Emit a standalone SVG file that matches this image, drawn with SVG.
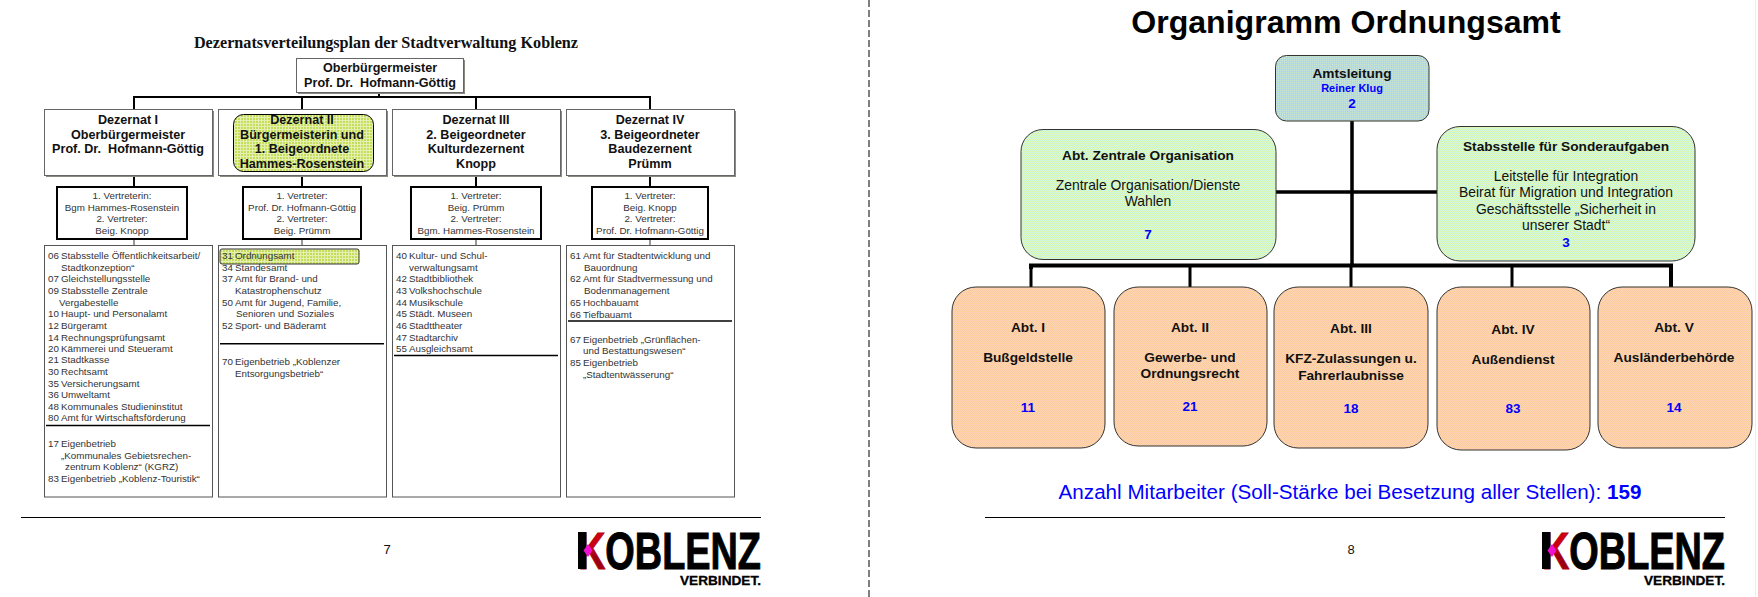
<svg xmlns="http://www.w3.org/2000/svg" width="1758" height="597" viewBox="0 0 1758 597">
<defs>
<style>
text{font-family:"Liberation Sans",Arial,sans-serif;white-space:pre}
.title{font-family:"Liberation Serif","Times New Roman",serif;font-weight:bold;font-size:16.200px;text-anchor:middle;fill:#111}
.h{font-weight:bold;font-size:12.600px;text-anchor:middle;fill:#111}
.v{font-size:9.800px;text-anchor:middle;fill:#333}
.l{font-size:9.800px;fill:#333}
.box{fill:#fff;stroke:#666;stroke-width:1}
.sh{fill:#8a8a80}
.vb{fill:#fff;stroke:#000;stroke-width:2}
.lb{fill:#fff;stroke:#555;stroke-width:1}
.c1{fill:none;stroke:#000;stroke-width:2}
.c2{fill:none;stroke:#333;stroke-width:1}
.sep{stroke:#000;stroke-width:1.5}
.foot{stroke:#000;stroke-width:1}
.t{font-size:13.900px;text-anchor:middle;fill:#111}
.b{font-weight:bold;font-size:13.700px;text-anchor:middle;fill:#111}
.n{font-weight:bold;font-size:13.500px;text-anchor:middle;fill:#00f}
.green{fill:url(#pg);stroke:#333;stroke-width:1}
.orange{fill:url(#po);stroke:#333;stroke-width:1}
.blue{fill:url(#pb);stroke:#333;stroke-width:1}
.logo{font-weight:bold;font-size:52px}
.verb{font-weight:bold;font-size:13px}
.pg{font-size:13px;text-anchor:middle;fill:#111}
</style>
<pattern id="pg" width="2" height="2" patternUnits="userSpaceOnUse"><rect width="2" height="2" fill="#e0f9b4"/><rect width="1" height="1" fill="#c8f2dc"/><rect x="1" y="1" width="1" height="1" fill="#cff5cc"/></pattern>
<pattern id="po" width="2" height="2" patternUnits="userSpaceOnUse"><rect width="2" height="2" fill="#fed8a0"/><rect width="1" height="1" fill="#fac8b0"/><rect x="1" y="1" width="1" height="1" fill="#fccca4"/></pattern>
<pattern id="pb" width="2" height="2" patternUnits="userSpaceOnUse"><rect width="2" height="2" fill="#b8dcec"/><rect width="1" height="1" fill="#c8e4c8"/><rect x="1" y="1" width="1" height="1" fill="#a8d0f0"/></pattern>
<pattern id="ph" width="3" height="3" patternUnits="userSpaceOnUse"><rect width="3" height="3" fill="#c4de5c"/><rect width="1" height="3" fill="#e4efb0"/><rect width="3" height="1" fill="#e4efb0"/></pattern>
<linearGradient id="kg" x1="0" y1="0" x2="0" y2="1"><stop offset="0.45" stop-color="#cc0010"/><stop offset="0.6" stop-color="#9c0010"/></linearGradient>
<g id="logo">
<text class="logo" x="0" y="37" textLength="183" lengthAdjust="spacingAndGlyphs"><tspan fill="url(#kg)" stroke="#b00010" stroke-width="1">K</tspan><tspan fill="#000" stroke="#000" stroke-width="1">OBLENZ</tspan></text>
<rect x="0" y="0" width="8.500" height="37" fill="#000"/>
<polygon points="5.500,18.500 10,12 14.500,18.500 10,25" fill="#f010d0"/>
<text class="verb" x="102" y="53" textLength="81" lengthAdjust="spacingAndGlyphs" fill="#000" stroke="#000" stroke-width="0.300">VERBINDET.</text>
</g>
</defs>
<rect width="1758" height="597" fill="#fff"/>
<line x1="869" y1="0" x2="869" y2="597" stroke="#000" stroke-width="1" stroke-dasharray="7 3"/>
<line x1="1755.500" y1="0" x2="1755.500" y2="597" stroke="#e6eef2" stroke-width="1"/>

<text class="title" x="386" y="48">Dezernatsverteilungsplan der Stadtverwaltung Koblenz</text>

<g id="connectors-left">
<path class="c1" d="M379 92V97M134 109V97H650V109M302 97V109M476 97V109"/>
<path class="c1" d="M134 175V187M302 175V187M476 175V187M650 175V187"/>
<path class="c2" d="M134 239V245M302 239V245M476 239V245M650 239V245"/>
</g>

<g id="ob">
<rect class="sh" x="298" y="60" width="167" height="34"/><rect class="box" x="296.500" y="58.500" width="167" height="34"/>
<text class="h" x="380" y="72">Oberbürgermeister</text><text class="h" x="380" y="87">Prof. Dr.  Hofmann-Göttig</text>
</g>
<g id="dez1">
<rect class="sh" x="46" y="111" width="168" height="66"/><rect class="box" x="44.500" y="109.500" width="168" height="66"/>
<text class="h" x="128" y="124">Dezernat I</text><text class="h" x="128" y="139">Oberbürgermeister</text><text class="h" x="128" y="153">Prof. Dr.  Hofmann-Göttig</text>
</g>
<g id="dez2">
<rect class="sh" x="220" y="111" width="168" height="66"/><rect class="box" x="218.500" y="109.500" width="168" height="66"/>
<rect x="233.500" y="114.500" width="140" height="57" rx="10" fill="url(#ph)" stroke="#000"/>
<text class="h" x="302" y="124">Dezernat II</text><text class="h" x="302" y="139">Bürgermeisterin und</text><text class="h" x="302" y="153">1. Beigeordnete</text><text class="h" x="302" y="168">Hammes-Rosenstein</text>
</g>
<g id="dez3">
<rect class="sh" x="394" y="111" width="168" height="66"/><rect class="box" x="392.500" y="109.500" width="168" height="66"/>
<text class="h" x="476" y="124">Dezernat III</text><text class="h" x="476" y="139">2. Beigeordneter</text><text class="h" x="476" y="153">Kulturdezernent</text><text class="h" x="476" y="168">Knopp</text>
</g>
<g id="dez4">
<rect class="sh" x="568" y="111" width="168" height="66"/><rect class="box" x="566.500" y="109.500" width="168" height="66"/>
<text class="h" x="650" y="124">Dezernat IV</text><text class="h" x="650" y="139">3. Beigeordneter</text><text class="h" x="650" y="153">Baudezernent</text><text class="h" x="650" y="168">Prümm</text>
</g>

<g id="vertr1"><rect class="vb" x="57" y="187" width="130" height="52"/>
<text class="v" x="122" y="199">1. Vertreterin:</text><text class="v" x="122" y="211">Bgm Hammes-Rosenstein</text><text class="v" x="122" y="222">2. Vertreter:</text><text class="v" x="122" y="234">Beig. Knopp</text></g>
<g id="vertr2"><rect class="vb" x="243" y="187" width="118" height="52"/>
<text class="v" x="302" y="199">1. Vertreter:</text><text class="v" x="302" y="211">Prof. Dr. Hofmann-Göttig</text><text class="v" x="302" y="222">2. Vertreter:</text><text class="v" x="302" y="234">Beig. Prümm</text></g>
<g id="vertr3"><rect class="vb" x="411" y="187" width="130" height="52"/>
<text class="v" x="476" y="199">1. Vertreter:</text><text class="v" x="476" y="211">Beig. Prümm</text><text class="v" x="476" y="222">2. Vertreter:</text><text class="v" x="476" y="234">Bgm. Hammes-Rosenstein</text></g>
<g id="vertr4"><rect class="vb" x="592" y="187" width="116" height="52"/>
<text class="v" x="650" y="199">1. Vertreter:</text><text class="v" x="650" y="211">Beig. Knopp</text><text class="v" x="650" y="222">2. Vertreter:</text><text class="v" x="650" y="234">Prof. Dr. Hofmann-Göttig</text></g>

<g id="list1"><rect class="lb" x="44.500" y="245.500" width="168" height="251.500"/>
<text class="l" y="259"><tspan x="48">06</tspan><tspan x="61">Stabsstelle Öffentlichkeitsarbeit/</tspan></text>
<text class="l" x="61" y="271">Stadtkonzeption“</text>
<text class="l" y="282"><tspan x="48">07</tspan><tspan x="61">Gleichstellungsstelle</tspan></text>
<text class="l" y="294"><tspan x="48">09</tspan><tspan x="61">Stabsstelle Zentrale</tspan></text>
<text class="l" x="59" y="306">Vergabestelle</text>
<text class="l" y="317"><tspan x="48">10</tspan><tspan x="61">Haupt- und Personalamt</tspan></text>
<text class="l" y="329"><tspan x="48">12</tspan><tspan x="61">Bürgeramt</tspan></text>
<text class="l" y="341"><tspan x="48">14</tspan><tspan x="61">Rechnungsprüfungsamt</tspan></text>
<text class="l" y="352"><tspan x="48">20</tspan><tspan x="61">Kämmerei und Steueramt</tspan></text>
<text class="l" y="363"><tspan x="48">21</tspan><tspan x="61">Stadtkasse</tspan></text>
<text class="l" y="375"><tspan x="48">30</tspan><tspan x="61">Rechtsamt</tspan></text>
<text class="l" y="387"><tspan x="48">35</tspan><tspan x="61">Versicherungsamt</tspan></text>
<text class="l" y="398"><tspan x="48">36</tspan><tspan x="61">Umweltamt</tspan></text>
<text class="l" y="410"><tspan x="48">48</tspan><tspan x="61">Kommunales Studieninstitut</tspan></text>
<text class="l" y="421"><tspan x="48">80</tspan><tspan x="61">Amt für Wirtschaftsförderung</tspan></text>
<line class="sep" x1="46" y1="425.500" x2="210" y2="425.500"/>
<text class="l" y="447"><tspan x="48">17</tspan><tspan x="61">Eigenbetrieb</tspan></text>
<text class="l" x="61" y="459">„Kommunales Gebietsrechen-</text>
<text class="l" x="65" y="470">zentrum Koblenz“ (KGRZ)</text>
<text class="l" y="482"><tspan x="48">83</tspan><tspan x="61">Eigenbetrieb „Koblenz-Touristik“</tspan></text>
</g>
<g id="list2"><rect class="lb" x="218.500" y="245.500" width="168" height="251.500"/>
<rect x="220" y="249" width="139" height="15" rx="2" fill="url(#ph)" stroke="#333"/>
<text class="l" y="259"><tspan x="222">31</tspan><tspan x="235">Ordnungsamt</tspan></text>
<text class="l" y="271"><tspan x="222">34</tspan><tspan x="235">Standesamt</tspan></text>
<text class="l" y="282"><tspan x="222">37</tspan><tspan x="235">Amt für Brand- und</tspan></text>
<text class="l" x="235" y="294">Katastrophenschutz</text>
<text class="l" y="306"><tspan x="222">50</tspan><tspan x="235">Amt für Jugend, Familie,</tspan></text>
<text class="l" x="236" y="317">Senioren und Soziales</text>
<text class="l" y="329"><tspan x="222">52</tspan><tspan x="235">Sport- und Bäderamt</tspan></text>
<line class="sep" x1="220" y1="343.700" x2="384" y2="343.700"/>
<text class="l" y="365"><tspan x="222">70</tspan><tspan x="235">Eigenbetrieb „Koblenzer</tspan></text>
<text class="l" x="235" y="377">Entsorgungsbetrieb“</text>
</g>
<g id="list3"><rect class="lb" x="392.500" y="245.500" width="168" height="251.500"/>
<text class="l" y="259"><tspan x="396">40</tspan><tspan x="409">Kultur- und Schul-</tspan></text>
<text class="l" x="409" y="271">verwaltungsamt</text>
<text class="l" y="282"><tspan x="396">42</tspan><tspan x="409">Stadtbibliothek</tspan></text>
<text class="l" y="294"><tspan x="396">43</tspan><tspan x="409">Volkshochschule</tspan></text>
<text class="l" y="306"><tspan x="396">44</tspan><tspan x="409">Musikschule</tspan></text>
<text class="l" y="317"><tspan x="396">45</tspan><tspan x="409">Städt. Museen</tspan></text>
<text class="l" y="329"><tspan x="396">46</tspan><tspan x="409">Stadttheater</tspan></text>
<text class="l" y="341"><tspan x="396">47</tspan><tspan x="409">Stadtarchiv</tspan></text>
<text class="l" y="352"><tspan x="396">55</tspan><tspan x="409">Ausgleichsamt</tspan></text>
<line class="sep" x1="394" y1="355.500" x2="558" y2="355.500"/>
</g>
<g id="list4"><rect class="lb" x="566.500" y="245.500" width="168" height="251.500"/>
<text class="l" y="259"><tspan x="570">61</tspan><tspan x="583">Amt für Stadtentwicklung und</tspan></text>
<text class="l" x="584" y="271">Bauordnung</text>
<text class="l" y="282"><tspan x="570">62</tspan><tspan x="583">Amt für Stadtvermessung und</tspan></text>
<text class="l" x="584" y="294">Bodenmanagement</text>
<text class="l" y="306"><tspan x="570">65</tspan><tspan x="583">Hochbauamt</tspan></text>
<text class="l" y="318"><tspan x="570">66</tspan><tspan x="583">Tiefbauamt</tspan></text>
<line class="sep" x1="568" y1="321" x2="732" y2="321"/>
<text class="l" y="343"><tspan x="570">67</tspan><tspan x="583">Eigenbetrieb „Grünflächen-</tspan></text>
<text class="l" x="583" y="354">und Bestattungswesen“</text>
<text class="l" y="366"><tspan x="570">85</tspan><tspan x="583">Eigenbetrieb</tspan></text>
<text class="l" x="583" y="378">„Stadtentwässerung“</text>
</g>

<line class="foot" x1="21" y1="517.500" x2="761" y2="517.500"/>
<text class="pg" x="387" y="554">7</text>
<use href="#logo" x="578" y="532"/>

<text x="1346" y="33" font-size="32.100" font-weight="bold" text-anchor="middle" fill="#000">Organigramm Ordnungsamt</text>

<g id="connectors-right">
<path fill="none" stroke="#000" stroke-width="3.500" d="M1352 121V267M1276 192H1437"/>
<path fill="none" stroke="#000" stroke-width="4" d="M1031 269V265.500H1671V269"/>
<path fill="none" stroke="#000" stroke-width="3" d="M1031 287V267M1190 287V267M1351 287V267M1512 287V267"/>
<path fill="none" stroke="#000" stroke-width="4" d="M1671 287V267"/>
</g>

<g id="amt"><rect class="blue" x="1275.500" y="55.500" width="153.500" height="65.500" rx="11"/>
<text class="b" x="1352" y="78">Amtsleitung</text>
<text x="1352" y="92" font-size="11" font-weight="bold" text-anchor="middle" fill="#00f">Reiner Klug</text>
<text class="n" x="1352" y="108">2</text></g>
<g id="zentral"><rect class="green" x="1021" y="129.500" width="255" height="130" rx="22"/>
<text class="b" x="1148" y="160">Abt. Zentrale Organisation</text>
<text class="t" x="1148" y="190">Zentrale Organisation/Dienste</text>
<text class="t" x="1148" y="206">Wahlen</text>
<text class="n" x="1148" y="239">7</text></g>
<g id="stab"><rect class="green" x="1437" y="126.500" width="258" height="134.500" rx="23"/>
<text class="b" x="1566" y="151">Stabsstelle für Sonderaufgaben</text>
<text class="t" x="1566" y="181">Leitstelle für Integration</text>
<text class="t" x="1566" y="197">Beirat für Migration und Integration</text>
<text class="t" x="1566" y="214">Geschäftsstelle „Sicherheit in</text>
<text class="t" x="1566" y="230">unserer Stadt“</text>
<text class="n" x="1566" y="247">3</text></g>

<g id="abt1"><rect class="orange" x="952" y="287" width="153" height="161" rx="24"/>
<text class="b" x="1028" y="332">Abt. I</text><text class="b" x="1028" y="362">Bußgeldstelle</text><text class="n" x="1028" y="412">11</text></g>
<g id="abt2"><rect class="orange" x="1114" y="287" width="153" height="159" rx="24"/>
<text class="b" x="1190" y="332">Abt. II</text><text class="b" x="1190" y="362">Gewerbe- und</text><text class="b" x="1190" y="378">Ordnungsrecht</text><text class="n" x="1190" y="411">21</text></g>
<g id="abt3"><rect class="orange" x="1274" y="287" width="154" height="161" rx="24"/>
<text class="b" x="1351" y="333">Abt. III</text><text class="b" x="1351" y="363">KFZ-Zulassungen u.</text><text class="b" x="1351" y="380">Fahrerlaubnisse</text><text class="n" x="1351" y="413">18</text></g>
<g id="abt4"><rect class="orange" x="1437" y="287" width="153" height="163" rx="24"/>
<text class="b" x="1513" y="334">Abt. IV</text><text class="b" x="1513" y="364">Außendienst</text><text class="n" x="1513" y="413">83</text></g>
<g id="abt5"><rect class="orange" x="1598" y="287" width="154" height="161" rx="24"/>
<text class="b" x="1674" y="332">Abt. V</text><text class="b" x="1674" y="362">Ausländerbehörde</text><text class="n" x="1674" y="412">14</text></g>

<text x="1350" y="499" font-size="20.650" text-anchor="middle" fill="#00f">Anzahl Mitarbeiter (Soll-Stärke bei Besetzung aller Stellen): <tspan font-weight="bold">159</tspan></text>
<line class="foot" x1="985" y1="517.500" x2="1725" y2="517.500"/>
<text class="pg" x="1351" y="554">8</text>
<use href="#logo" x="1542" y="532"/>
</svg>
